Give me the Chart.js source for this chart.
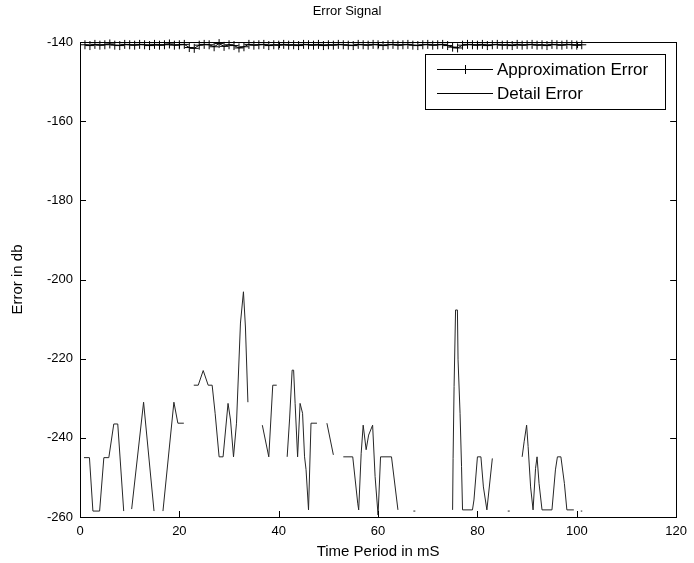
<!DOCTYPE html>
<html><head><meta charset="utf-8">
<script src="https://cdn.jsdelivr.net/npm/chart.js@4/dist/chart.umd.min.js"></script>
<style>html,body{margin:0;padding:0;background:#fff;}</style>
</head><body>
<canvas id="c" width="694" height="563"></canvas>
<script>
const chartTitle = 'Error Signal';
const xAxisLabel = 'Time Period in mS';
const yAxisLabel = 'Error in db';
const xTicks = [0, 20, 40, 60, 80, 100, 120];
const yTicks = [-260, -240, -220, -200, -180, -160, -140];

// Approximation error: sampled every 1 mS
const approxTime = Array.from({length: 101}, (_, i) => i + 1);
const approxError = [
  -140.7,-140.9,-140.6,-140.8,-140.7,-140.5,-140.8,-140.9,-140.6,-140.7,
  -140.8,-140.6,-140.7,-140.9,-140.6,-140.8,-140.7,-140.5,-140.8,-140.7,
  -140.6,-141.4,-141.6,-140.8,-140.6,-140.7,-141.2,-140.4,-141.1,-140.7,
  -140.9,-141.5,-141.2,-140.6,-140.8,-140.7,-140.6,-140.9,-140.7,-140.8,
  -140.6,-140.8,-140.7,-140.9,-140.6,-140.7,-140.8,-140.6,-140.9,-140.7,
  -140.8,-140.6,-140.7,-140.8,-140.9,-140.6,-140.7,-140.8,-140.6,-140.7,
  -140.9,-140.7,-140.6,-140.8,-140.7,-140.6,-140.8,-140.9,-140.7,-140.6,
  -140.8,-140.7,-140.6,-140.9,-141.3,-141.5,-140.8,-140.6,-140.7,-140.8,
  -140.6,-140.9,-140.7,-140.6,-140.8,-140.7,-140.9,-140.6,-140.8,-140.7,
  -140.6,-140.8,-140.7,-140.9,-140.6,-140.7,-140.8,-140.6,-140.7,-140.8,
  -140.7
];

// Detail error (null = -Inf, not drawn)
const detailTime = [
  0.8,1.9,2.6,3.95,4.8,5.8,6.8,7.6,8.8, 9.6,
  10.4,12.8,14.9, 15.8,
  16.7,18.9,19.7,20.9, 22,
  22.9,23.8,24.8,25.8,26.6,27.2,28,28.8,29.8,30.3,30.9,31.5,32.3,32.9,33.3,33.8, 35,
  36.7,38,38.8,39.6, 40.5,
  41.7,42.2,42.7,43,43.3,43.8,44.3,44.8,45.2,45.5,46,46.5,47.7, 48.7,
  49.7,51, 52,
  53,54.9,55.9,56.1,56.6,57,57.6,58.1,58.9,59.4,60,60.5,62.7,64, 65.5,
  67.1,67.5, 70,
  75,75.1,75.3,75.6,75.97,76.1,76.5,76.8,77,79,79.3,80,80.7,81.2,81.9,83, 85,
  86.1,86.5, 87.5,
  89,89.4,89.9,90.2,90.7,91.2,91.7,92,92.4,93,95,95.7,96.1,96.8,97.5,98,99.4, 100.2,
  100.8,101.1
];
const detailError = [
  -245,-245,-258.5,-258.5,-245,-245,-236.5,-236.5,-258.5, null,
  -258,-231,-258.5, null,
  -258.5,-231,-236.3,-236.3, null,
  -226.7,-226.7,-223,-226.7,-226.7,-233.8,-244.8,-244.8,-231.3,-235.5,-244.8,-236.3,-211,-203.1,-212,-231, null,
  -236.8,-244.8,-226.7,-226.7, null,
  -244.8,-235,-222.9,-222.9,-231.3,-244.8,-231.3,-233.8,-244.8,-248,-258.2,-236.3,-236.3, null,
  -236.3,-244.3, null,
  -244.8,-244.8,-256.5,-258.2,-243.9,-236.8,-243,-239.3,-236.8,-249.8,-259.5,-244.8,-244.8,-258.2, null,
  -258.5,-258.5, null,
  -258.2,-245.2,-227,-207.7,-207.7,-220.3,-233.8,-247.3,-258.2,-258.2,-255.7,-244.8,-244.8,-252.4,-258.2,-245.2, null,
  -258.5,-258.5, null,
  -244.8,-241,-236.8,-242.2,-252.4,-258.2,-247.7,-244.8,-251.5,-258.2,-258.2,-248.1,-244.8,-244.8,-251.5,-258.2,-258.2, null,
  -258.5,-258.5
];

const FONT = "'Liberation Sans', Arial, Helvetica, sans-serif";

const framePlugin = {
  id: 'frame',
  afterDatasetsDraw(chart) {
    const {ctx, chartArea: a, scales: {x, y}} = chart;
    ctx.save();
    ctx.strokeStyle = '#000';
    ctx.lineWidth = 1;
    ctx.beginPath();
    xTicks.forEach(v => {
      const p = Math.round(x.getPixelForValue(v)) + 0.5;
      ctx.moveTo(p, a.bottom); ctx.lineTo(p, a.bottom - 6);
      ctx.moveTo(p, a.top); ctx.lineTo(p, a.top + 6);
    });
    yTicks.forEach(v => {
      const p = Math.round(y.getPixelForValue(v)) + 0.5;
      ctx.moveTo(a.left, p); ctx.lineTo(a.left + 6, p);
      ctx.moveTo(a.right, p); ctx.lineTo(a.right - 6, p);
    });
    ctx.stroke();
    ctx.strokeRect(Math.round(a.left) + 0.5, Math.round(a.top) + 0.5,
                   Math.round(a.right - a.left), Math.round(a.bottom - a.top));

    // legend box inside the axes (top-right)
    const bx = 425.5, by = 54.5, bw = 240, bh = 55;
    ctx.fillStyle = '#fff';
    ctx.fillRect(bx, by, bw, bh);
    ctx.strokeRect(bx, by, bw, bh);
    const rows = [69.5, 93.5];
    ctx.font = '17px ' + FONT;
    ctx.textBaseline = 'middle';
    ctx.textAlign = 'left';
    chart.data.datasets.forEach((ds, i) => {
      const yy = rows[i];
      ctx.strokeStyle = '#000';
      ctx.beginPath();
      ctx.moveTo(437, yy); ctx.lineTo(493, yy);
      if (i === 0) {
        ctx.moveTo(465.5, yy - 4.5); ctx.lineTo(465.5, yy + 4.5);
        ctx.moveTo(461, yy); ctx.lineTo(470, yy);
      }
      ctx.stroke();
      ctx.fillStyle = '#000';
      ctx.fillText(ds.label, 497, yy + 1);
    });
    ctx.restore();
  }
};

new Chart(document.getElementById('c'), {
  type: 'line',
  data: {
    datasets: [
      {
        label: 'Approximation Error',
        data: approxTime.map((t, i) => ({x: t, y: approxError[i]})),
        borderColor: '#000',
        borderWidth: 1,
        pointStyle: 'cross',
        pointRadius: 4.5,
        pointBorderColor: '#000',
        pointBorderWidth: 1,
        pointBackgroundColor: '#000',
        fill: false,
        tension: 0,
        clip: 8
      },
      {
        label: 'Detail Error',
        data: detailTime.map((t, i) => ({x: t, y: detailError[i]})),
        borderColor: '#262626',
        borderWidth: 1,
        pointRadius: 0,
        fill: false,
        tension: 0,
        spanGaps: false
      }
    ]
  },
  options: {
    responsive: false,
    animation: false,
    layout: {padding: {left: 0, right: 0, top: 0, bottom: 0}},
    plugins: {
      legend: {display: false},
      tooltip: {enabled: false},
      title: {
        display: true,
        text: chartTitle,
        color: '#000',
        font: {family: FONT, size: 13, weight: 'normal'},
        padding: {top: 4, bottom: 22.4}
      }
    },
    scales: {
      x: {
        type: 'linear',
        min: 0, max: 120,
        afterBuildTicks: s => { s.ticks = xTicks.map(v => ({value: v})); },
        afterFit: s => { s.height = 46; },
        grid: {display: false, drawTicks: false},
        border: {display: false},
        ticks: {color: '#000', padding: 7, font: {family: FONT, size: 13}, maxRotation: 0},
        title: {display: true, text: xAxisLabel, color: '#000',
                font: {family: FONT, size: 15}, padding: {top: 0, bottom: 2}}
      },
      y: {
        type: 'linear',
        min: -260, max: -140,
        afterBuildTicks: s => { s.ticks = yTicks.map(v => ({value: v})); },
        afterFit: s => { s.width = 80; },
        grid: {display: false, drawTicks: false},
        border: {display: false},
        ticks: {color: '#000', padding: 7, font: {family: FONT, size: 13}},
        title: {display: true, text: yAxisLabel, color: '#000',
                font: {family: FONT, size: 15}, padding: {top: 9, bottom: 0}}
      },
      yRight: {
        type: 'linear',
        position: 'right',
        min: -260, max: -140,
        afterFit: s => { s.width = 17; },
        grid: {display: false, drawTicks: false},
        border: {display: false},
        ticks: {display: false}
      }
    }
  },
  plugins: [framePlugin]
});
</script>
</body></html>
